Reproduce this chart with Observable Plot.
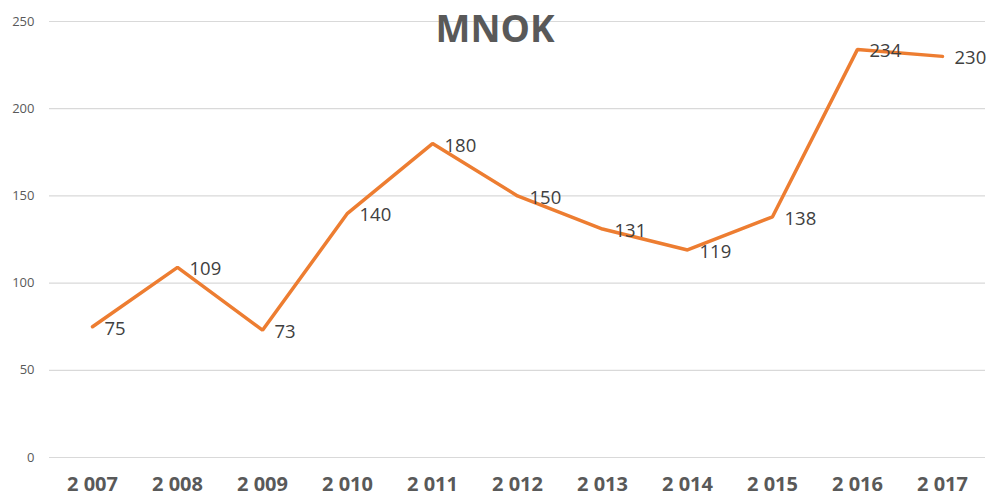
<!DOCTYPE html>
<html><head><meta charset="utf-8">
<script src="https://cdn.jsdelivr.net/npm/d3@7"></script>
<script src="https://cdn.jsdelivr.net/npm/@observablehq/plot@0.6"></script>
<style>
body{margin:0;background:#fff;}
#wrap{position:relative;width:990px;height:499px;}
#title{position:absolute;left:0;width:990px;top:2px;text-align:center;font:bold 37px "Open Sans",sans-serif;color:#595959;pointer-events:none;}
</style></head>
<body><div id="wrap"><div id="chart"></div><div id="title">MNOK</div></div>
<script>
const years = ["2 007","2 008","2 009","2 010","2 011","2 012","2 013","2 014","2 015","2 016","2 017"];
const values = [75,109,73,140,180,150,131,119,138,234,230];
const yTicks = [0,50,100,150,200,250];
const data = years.map((y,i)=>({year:y,value:values[i]}));
const chart = Plot.plot({
  width:990, height:499,
  marginLeft:49, marginRight:5, marginTop:21, marginBottom:42,
  style:{fontFamily:"Open Sans, sans-serif", background:"#fff"},
  x:{type:"point", domain:years, padding:0.5, label:null},
  y:{domain:[0,250], ticks:yTicks, label:null},
  marks:[
    Plot.gridY(yTicks,{stroke:"#d9d9d9", strokeOpacity:1, strokeWidth:1.2}),
    Plot.axisY(yTicks,{tickSize:0, tickPadding:15, fontSize:13, fill:"#595959", tickFormat:d=>d}),
    Plot.axisX({tickSize:0, tickPadding:19, fontSize:20, fontWeight:"bold", fill:"#595959"}),
    Plot.line(data,{x:"year", y:"value", stroke:"#ED7D31", strokeWidth:3.5, strokeLinejoin:"miter"}),
    Plot.text(data,{x:"year", y:"value", text:d=>String(d.value), dx:12, dy:2, textAnchor:"start", fontSize:18.5, fill:"#404040"})
  ]
});
document.getElementById("chart").appendChild(chart);
</script></body></html>
